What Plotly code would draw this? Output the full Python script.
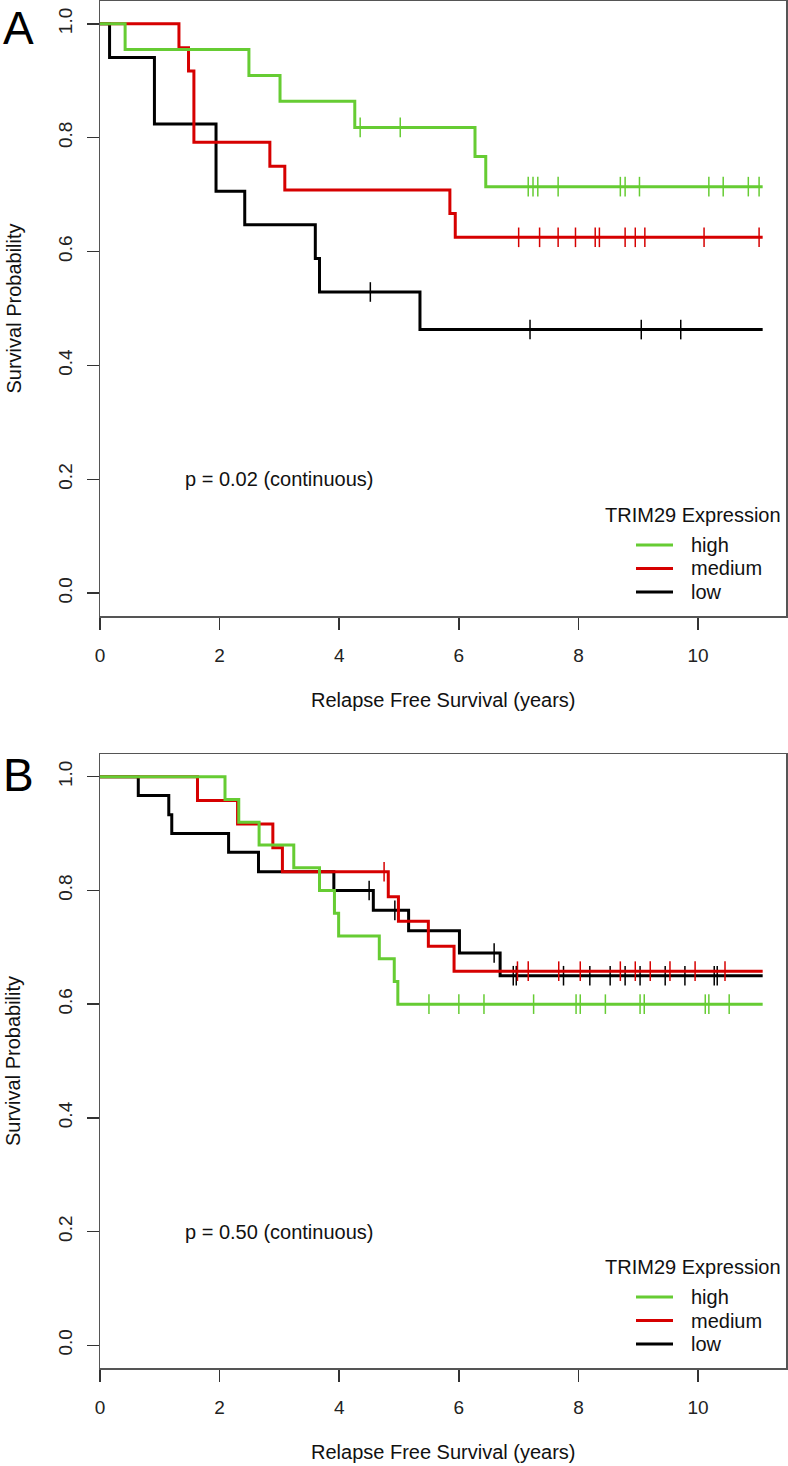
import plotly.graph_objects as go

# ---------------- data ----------------
# Panel A
A_high_times = [0.42, 2.49, 3.01, 4.26, 6.27, 6.45]
A_high_surv = [0.955, 0.909, 0.864, 0.818, 0.767, 0.714]
A_high_censor = [4.35, 5.02, 7.16, 7.24, 7.32, 7.66, 8.70, 8.78, 9.02, 10.18, 10.42, 10.84, 11.02]

A_med_times = [1.32, 1.48, 1.57, 2.84, 3.09, 5.85, 5.94]
A_med_surv = [0.958, 0.917, 0.792, 0.750, 0.708, 0.667, 0.625]
A_med_censor = [7.00, 7.35, 7.66, 7.95, 8.28, 8.35, 8.78, 8.95, 9.11, 10.10, 11.02]

A_low_times = [0.16, 0.91, 1.94, 2.42, 3.60, 3.67, 5.35]
A_low_surv = [0.941, 0.824, 0.706, 0.647, 0.588, 0.529, 0.463]
A_low_censor = [4.52, 7.19, 9.05, 9.71]

# Panel B
B_high_times = [2.09, 2.32, 2.66, 3.24, 3.67, 3.92, 3.99, 4.67, 4.92, 4.98]
B_high_surv = [0.96, 0.92, 0.88, 0.84, 0.80, 0.76, 0.72, 0.68, 0.64, 0.60]
B_high_censor = [5.50, 6.00, 6.42, 7.25, 7.96, 8.03, 8.45, 9.03, 9.10, 10.12, 10.18, 10.52]

B_med_times = [1.63, 2.30, 2.89, 3.05, 4.82, 4.99, 5.49, 5.92]
B_med_surv = [0.958, 0.917, 0.875, 0.833, 0.789, 0.746, 0.702, 0.658]
B_med_censor = [4.75, 6.98, 7.16, 7.67, 8.03, 8.70, 8.95, 9.20, 9.53, 9.95, 10.45]

B_low_times = [0.64, 1.15, 1.20, 2.15, 2.65, 3.91, 4.57, 5.16, 6.01, 6.69]
B_low_surv = [0.967, 0.933, 0.900, 0.867, 0.833, 0.800, 0.765, 0.729, 0.690, 0.650]
B_low_censor = [4.50, 4.93, 6.59, 6.91, 6.96, 7.75, 8.19, 8.53, 8.78, 9.03, 9.45, 9.78, 10.27, 10.32]

follow_up_end = 11.08

group_names = ["high", "medium", "low"]
group_colors = {"high": "#66CC33", "medium": "#D60000", "low": "#000000"}
p_texts = ["p = 0.02 (continuous)", "p = 0.50 (continuous)"]
panel_letters = ["A", "B"]
x_ticks = [0, 2, 4, 6, 8, 10]
y_ticks = [0.0, 0.2, 0.4, 0.6, 0.8, 1.0]
y_ticktext = ["0.0", "0.2", "0.4", "0.6", "0.8", "1.0"]
legend_title = "TRIM29 Expression"
x_title = "Relapse Free Survival (years)"
y_title = "Survival Probability"

panels = [
    {"high": (A_high_times, A_high_surv, A_high_censor),
     "medium": (A_med_times, A_med_surv, A_med_censor),
     "low": (A_low_times, A_low_surv, A_low_censor)},
    {"high": (B_high_times, B_high_surv, B_high_censor),
     "medium": (B_med_times, B_med_surv, B_med_censor),
     "low": (B_low_times, B_low_surv, B_low_censor)},
]

# ---------------- layout helpers ----------------
W, H = 788, 1466
def fx(px):
    return px / W
def fy(py):
    return 1 - py / H

FONT = "Liberation Sans, Arial, Helvetica, sans-serif"
TXT = "#111111"
LBL = 20

def surv_at(times, surv, t):
    s = 1.0
    for ti, si in zip(times, surv):
        if ti <= t:
            s = si
    return s

fig = go.Figure()

# panel boxes in pixels: (top, bottom)
boxes = [(1, 616), (754, 1368)]
letter_tops = [0, 747]
draw_order = ["low", "medium", "high"]

for i, data in enumerate(panels):
    xa = "x" if i == 0 else "x2"
    ya = "y" if i == 0 else "y2"
    for g in draw_order:
        times, surv, cens = data[g]
        fig.add_trace(go.Scatter(
            x=[0] + list(times) + [follow_up_end],
            y=[1.0] + list(surv) + [surv[-1]],
            mode="lines", line=dict(color=group_colors[g], width=3, shape="hv"),
            xaxis=xa, yaxis=ya, showlegend=False, name=g, hoverinfo="skip"))
        fig.add_trace(go.Scatter(
            x=cens, y=[surv_at(times, surv, c) for c in cens],
            mode="markers",
            marker=dict(symbol="line-ns", size=14, color=group_colors[g],
                        line=dict(color=group_colors[g], width=1.5)),
            xaxis=xa, yaxis=ya, showlegend=False, hoverinfo="skip"))

axis_common = dict(
    showgrid=False, zeroline=False, showline=True, linecolor="#555555", linewidth=1.5,
    mirror=True, ticks="outside", ticklen=12, tickwidth=1.5, tickcolor="#333333",
    tickfont=dict(family=FONT, size=19, color="#222222"),
)

for i, (top, bot) in enumerate(boxes):
    sx = "" if i == 0 else "2"
    fig.layout["xaxis" + sx] = dict(
        axis_common, domain=[fx(100), fx(786)], range=[0, 11.47],
        tickvals=x_ticks, anchor="y" + sx, ticklabelstandoff=10)
    fig.layout["yaxis" + sx] = dict(
        axis_common, domain=[fy(bot), fy(top)], range=[-0.04, 1.04],
        tickvals=y_ticks, ticktext=y_ticktext, tickangle=-90, anchor="x" + sx,
        ticklabelstandoff=7)

ann = []
shapes = []
for i, (top, bot) in enumerate(boxes):
    xa = "x" if i == 0 else "x2"
    ya = "y" if i == 0 else "y2"
    # panel letter
    ann.append(dict(text=panel_letters[i], x=fx(18), y=fy(letter_tops[i]), xref="paper", yref="paper",
                    showarrow=False, xanchor="center", yanchor="top",
                    font=dict(family=FONT, size=46, color="#000000")))
    # axis titles
    ann.append(dict(text=y_title, x=fx(13), y=fy((top + bot) / 2), xref="paper", yref="paper",
                    showarrow=False, textangle=-90, xanchor="center", yanchor="middle",
                    font=dict(family=FONT, size=LBL, color=TXT)))
    ann.append(dict(text=x_title, x=fx(443), y=fy(bot + 84), xref="paper", yref="paper",
                    showarrow=False, xanchor="center", yanchor="middle",
                    font=dict(family=FONT, size=LBL, color=TXT)))
    # p value
    ann.append(dict(text=p_texts[i], x=3.0, y=0.2, xref=xa, yref=ya,
                    showarrow=False, xanchor="center", yanchor="middle",
                    font=dict(family=FONT, size=LBL, color=TXT)))
    # legend
    ann.append(dict(text=legend_title, x=fx(693), y=fy(bot - 101), xref="paper", yref="paper",
                    showarrow=False, xanchor="center", yanchor="middle",
                    font=dict(family=FONT, size=LBL, color=TXT)))
    for k, g in enumerate(group_names):
        yy = bot - 71 + k * 23.5
        shapes.append(dict(type="line", xref="paper", yref="paper",
                           x0=fx(636), x1=fx(673), y0=fy(yy), y1=fy(yy),
                           line=dict(color=group_colors[g], width=3)))
        ann.append(dict(text=g, x=fx(689), y=fy(yy), xref="paper", yref="paper",
                        showarrow=False, xanchor="left", yanchor="middle",
                        font=dict(family=FONT, size=LBL, color=TXT)))

fig.update_layout(
    width=W, height=H, margin=dict(l=0, r=0, t=0, b=0, autoexpand=False),
    paper_bgcolor="white", plot_bgcolor="white",
    annotations=ann, shapes=shapes, showlegend=False,
    font=dict(family=FONT, color=TXT),
)

fig.write_html("out.html", config={"displayModeBar": False, "staticPlot": True},
               post_script="document.body.style.margin='0px';document.body.style.padding='0px';")
